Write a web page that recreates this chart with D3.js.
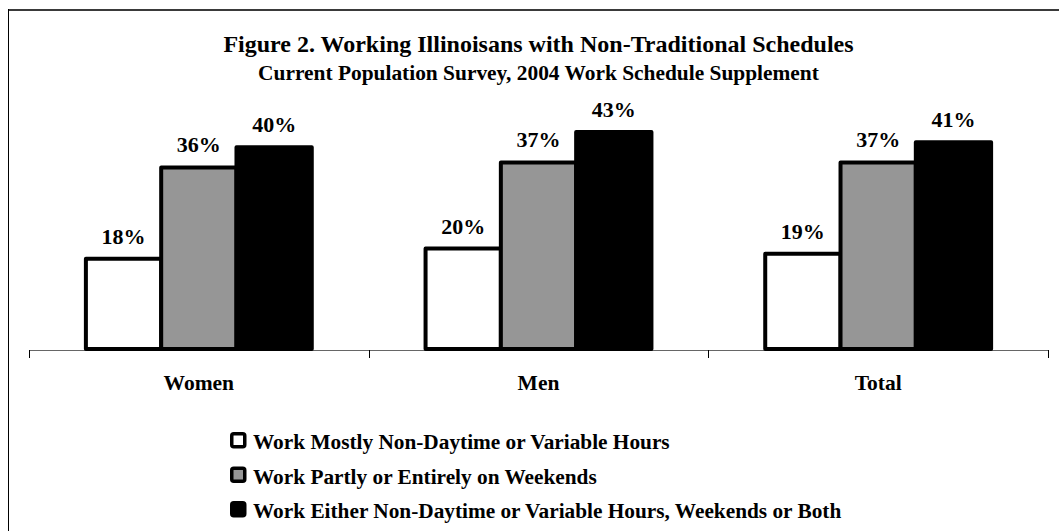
<!DOCTYPE html>
<html>
<head>
<meta charset="utf-8">
<script src="https://cdn.jsdelivr.net/npm/d3@7/dist/d3.min.js"></script>
<style>
    body { margin: 0; background: #fff; }
    text { font-family: "Liberation Serif", "Times New Roman", serif; font-weight: bold; fill: #000; }
</style>
</head>
<body>
<svg id="chart" width="1059" height="531"></svg>
<script>
/*
    Chart data
 */
var categories = ["Women", "Men", "Total"];

var seriesNames = [
    "Work Mostly Non-Daytime or Variable Hours",
    "Work Partly or Entirely on Weekends",
    "Work Either Non-Daytime or Variable Hours, Weekends or Both"
];

var nonDaytimeValues = [18, 20, 19];
var weekendValues = [36, 37, 37];
var eitherValues = [40, 43, 41];

var seriesColors = ["#ffffff", "#969696", "#000000"];

var title = "Figure 2. Working Illinoisans with Non-Traditional Schedules";
var subtitle = "Current Population Survey, 2004 Work Schedule Supplement";


var width = 1059;
var height = 531;

var svg = d3.select("#chart");

/*
    Frame round the chart (right and bottom edges fall outside the picture)
 */
svg.append("line")
    .attr("x1", 8).attr("x2", width)
    .attr("y1", 10).attr("y2", 10)
    .attr("stroke", "#3a3a3a")
    .attr("stroke-width", 2);

svg.append("line")
    .attr("x1", 8.5).attr("x2", 8.5)
    .attr("y1", 9).attr("y2", height)
    .attr("stroke", "#000")
    .attr("stroke-width", 1);

/*
    Titles
 */
var centerX = 538.5;

svg.append("text")
    .attr("x", centerX)
    .attr("y", 52)
    .attr("text-anchor", "middle")
    .style("font-size", "24px")
    .text(title);

svg.append("text")
    .attr("x", centerX)
    .attr("y", 80)
    .attr("text-anchor", "middle")
    .style("font-size", "21.4px")
    .text(subtitle);

/*
    Scales
 */
var x0 = d3.scaleBand()
    .domain(categories)
    .range([29, 1048])
    .paddingInner(0)
    .paddingOuter(0);

var x1 = d3.scaleBand()
    .domain(d3.range(seriesNames.length))
    .range([x0.bandwidth() * 0.1675, x0.bandwidth() * 0.8325]);

var y = d3.scaleLinear()
    .domain([0, 50])
    .range([350, 96.5]);

var rows = categories.map(function(c, i){

    return {name: c, values: [nonDaytimeValues[i], weekendValues[i], eitherValues[i]]};
});

/*
    Axis with the category labels
 */
var axis = d3.axisBottom(x0)
    .tickSize(0)
    .tickPadding(0);

var axisG = svg.append("g")
    .attr("transform", "translate(0," + y(0) + ")")
    .call(axis);

axisG.select(".domain")
    .attr("stroke", "#666")
    .attr("stroke-width", 1.2);

axisG.selectAll(".tick text")
    .attr("y", 40)
    .attr("dy", 0)
    .style("font-size", "21.5px");

// tick marks sit between the categories
var boundaries = categories.map(function(c){ return x0(c); }).concat([x0.range()[1]]);

svg.selectAll(".sep")
    .data(boundaries)
    .enter().append("line")
    .attr("class", "sep")
    .attr("x1", function(d){ return Math.round(d) + 0.5; })
    .attr("x2", function(d){ return Math.round(d) + 0.5; })
    .attr("y1", y(0))
    .attr("y2", y(0) + 8)
    .attr("stroke", "#000")
    .attr("stroke-width", 1);

/*
    Bars
 */
var groups = svg.selectAll(".group")
    .data(rows)
    .enter().append("g")
    .attr("class", "group")
    .attr("transform", function(d){ return "translate(" + x0(d.name) + ",0)"; });

var bars = groups.selectAll(".bar")
    .data(function(d){ return d.values.map(function(v, i){ return {series: i, value: v}; }); })
    .enter().append("g")
    .attr("class", "bar");

bars.append("rect")
    .attr("x", function(d){ return x1(d.series); })
    .attr("y", function(d){ return y(d.value); })
    .attr("width", x1.bandwidth())
    .attr("height", function(d){ return y(0) - 1 - y(d.value); })
    .attr("fill", function(d){ return seriesColors[d.series]; })
    .attr("stroke", "#000")
    .attr("stroke-width", 4)
    .attr("stroke-linejoin", "round");

bars.append("text")
    .attr("x", function(d){ return x1(d.series) + x1.bandwidth() / 2; })
    .attr("y", function(d){ return y(d.value) - 15; })
    .attr("text-anchor", "middle")
    .style("font-size", "22px")
    .text(function(d){ return d.value + "%"; });

/*
    Legend
 */
var legend = svg.selectAll(".legend")
    .data(seriesNames)
    .enter().append("g")
    .attr("class", "legend")
    .attr("transform", function(d, i){ return "translate(230," + (449 + i * 34.5) + ")"; });

legend.append("rect")
    .attr("x", 1.75)
    .attr("y", -15.25)
    .attr("width", 13)
    .attr("height", 13)
    .attr("rx", 2)
    .attr("fill", function(d, i){ return seriesColors[i]; })
    .attr("stroke", "#000")
    .attr("stroke-width", 3.5);

legend.append("text")
    .attr("x", 23)
    .attr("y", 0)
    .style("font-size", "21.3px")
    .text(function(d){ return d; });
</script>
</body>
</html>
